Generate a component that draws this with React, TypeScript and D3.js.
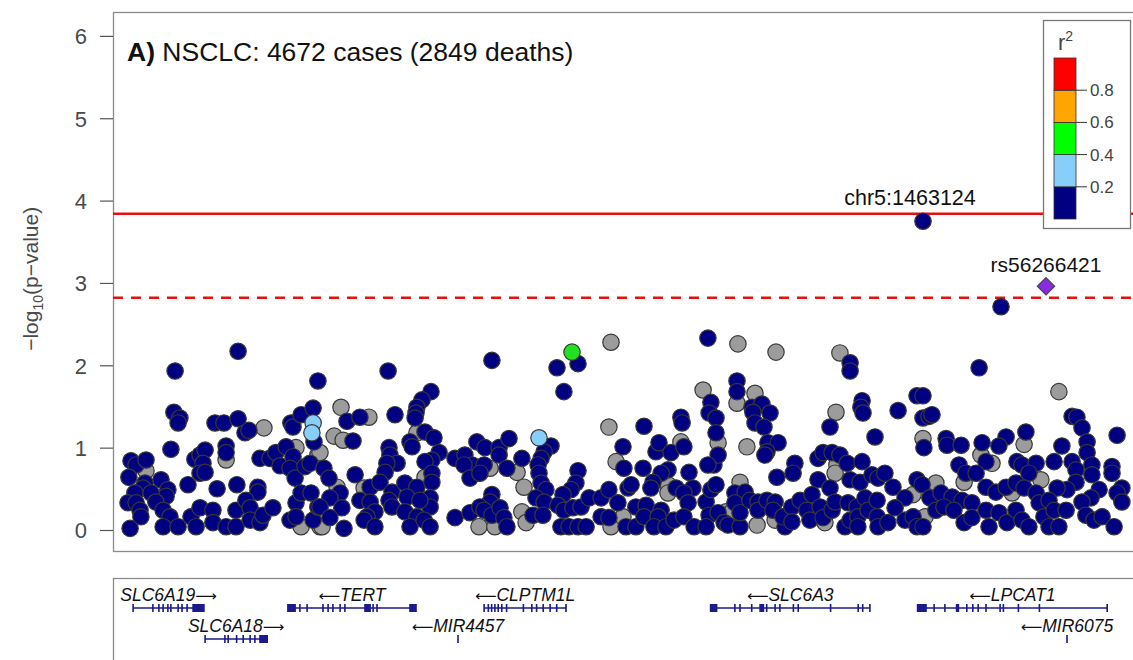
import React, { useEffect, useRef } from "react";
import * as d3 from "d3";

// chr5 positions in kb, -log10(p)
const navySnps = [
  [1234.7,2.17],[1213.7,1.93],[1261.3,1.81],[1213.3,1.43],[1215.3,1.36],[1214.7,1.30],[1227.0,1.30],[1230.0,1.30],[1234.7,1.35],[1237.0,1.18],[1238.3,1.21],[1252.3,1.30],[1253.0,1.25],[1255.7,1.40],[1259.7,1.48],[1260.0,1.07],[1212.3,0.98],[1199.0,0.84],[1200.7,0.79],[1204.0,0.85],[1198.3,0.64],[1220.3,0.86],[1222.0,0.91],[1223.7,0.97],[1223.0,0.81],[1222.0,0.69],[1223.7,0.70],[1230.7,1.02],[1230.7,0.94],[1242.0,0.87],[1245.3,0.87],[1247.3,0.94],[1248.7,0.78],[1250.7,1.01],[1253.0,0.89],[1252.0,0.75],[1253.7,0.63],[1257.0,0.77],[1258.7,0.81],[1209.0,0.61],[1218.0,0.55],[1227.7,0.50],[1234.3,0.55],[1241.3,0.52],[1241.3,0.46],[1203.7,0.57],[1203.0,0.51],[1211.3,0.49],[1210.7,0.41],[1200.3,0.45],[1205.7,0.45],[1198.0,0.33],[1200.7,0.33],[1207.3,0.34],[1202.0,0.24],[1202.3,0.16],[1209.7,0.24],[1212.0,0.16],[1198.7,0.02],[1209.7,0.04],[1214.7,0.04],[1219.0,0.16],[1222.0,0.27],[1220.7,0.04],[1226.3,0.24],[1226.3,0.09],[1230.7,0.04],[1234.0,0.04],[1234.0,0.24],[1237.3,0.36],[1238.7,0.27],[1238.7,0.12],[1242.0,0.09],[1243.0,0.18],[1246.3,0.27],[1252.0,0.12],[1254.0,0.33],[1255.7,0.45],[1259.0,0.45],[1254.0,0.16],[1259.7,0.12],[1261.3,0.28],
  [1319.3,2.06],[1284.7,1.93],[1299.0,1.68],[1296.0,1.58],[1294.3,1.49],[1294.0,1.42],[1293.7,1.36],[1271.0,1.32],[1275.3,1.37],[1287.0,1.40],[1273.0,1.08],[1297.0,1.19],[1300.0,1.12],[1292.0,1.07],[1292.7,1.01],[1285.0,1.00],[1285.3,0.91],[1287.7,0.81],[1284.3,0.81],[1283.7,0.70],[1301.7,0.94],[1299.3,0.85],[1297.0,0.83],[1273.7,0.67],[1263.3,0.75],[1265.0,0.63],[1268.7,0.45],[1265.3,0.39],[1269.3,0.27],[1262.0,0.28],[1265.3,0.15],[1270.0,0.02],[1278.7,0.52],[1282.0,0.58],[1275.3,0.36],[1278.7,0.34],[1280.3,0.22],[1277.7,0.16],[1276.7,0.12],[1280.3,0.04],[1286.0,0.46],[1285.0,0.36],[1286.0,0.28],[1290.3,0.57],[1294.3,0.52],[1291.0,0.40],[1290.3,0.22],[1294.3,0.16],[1292.0,0.04],[1299.3,0.69],[1299.3,0.58],[1298.7,0.39],[1298.7,0.28],[1295.3,0.36],[1296.7,0.12],[1298.7,0.04],[1307.0,0.87],[1310.3,0.91],[1314.3,1.07],[1317.0,1.00],[1321.7,1.00],[1325.0,1.11],[1321.7,0.91],[1312.7,0.79],[1310.0,0.79],[1316.7,0.79],[1324.3,0.75],[1329.3,0.87],[1312.0,0.63],[1315.3,0.69],[1319.3,0.43],[1318.7,0.34],[1307.0,0.15],[1312.0,0.21],[1315.3,0.28],[1316.7,0.24],[1319.3,0.18],[1322.0,0.27],[1323.3,0.15],[1324.3,0.04],
  [1391.3,2.33],[1341.0,1.97],[1348.0,2.02],[1343.3,1.68],[1392.3,1.55],[1391.7,1.42],[1394.0,1.36],[1382.3,1.37],[1382.7,1.30],[1370.0,1.26],[1339.0,1.02],[1336.7,0.95],[1335.7,0.87],[1334.7,0.79],[1335.0,0.69],[1335.7,0.57],[1337.3,0.49],[1334.0,0.39],[1336.7,0.34],[1333.0,0.18],[1336.3,0.18],[1363.0,1.01],[1363.3,0.75],[1369.7,0.75],[1348.0,0.72],[1347.3,0.57],[1345.7,0.49],[1343.0,0.43],[1341.3,0.30],[1343.3,0.24],[1346.3,0.27],[1349.0,0.28],[1351.7,0.39],[1342.3,0.04],[1345.0,0.04],[1348.0,0.04],[1350.7,0.04],[1355.7,0.39],[1358.3,0.49],[1355.7,0.16],[1358.3,0.15],[1361.3,0.33],[1364.7,0.51],[1365.7,0.55],[1367.3,0.28],[1364.0,0.04],[1367.3,0.04],[1370.7,0.30],[1370.0,0.16],[1374.0,0.95],[1375.0,1.06],[1379.0,0.94],[1378.0,0.73],[1375.7,0.69],[1373.0,0.58],[1372.3,0.51],[1380.7,0.51],[1383.3,1.01],[1385.0,0.70],[1386.3,0.51],[1383.3,0.45],[1384.7,0.33],[1375.7,0.24],[1374.7,0.16],[1373.3,0.04],[1377.3,0.04],[1380.0,0.12],[1383.3,0.16],[1386.7,0.04],[1390.7,0.34],[1392.3,0.49],[1394.0,0.55],[1393.3,0.79],[1394.7,0.91],[1394.0,1.18],[1391.3,0.79],[1391.7,0.18],[1390.7,0.04],[1394.7,0.21],[1396.7,0.09],
  [1463.0,3.75],[1438.7,2.03],[1438.7,1.93],[1401.0,1.81],[1401.0,1.68],[1406.0,1.49],[1409.3,1.53],[1406.3,1.43],[1412.0,1.42],[1407.0,1.30],[1410.0,1.25],[1442.7,1.57],[1442.3,1.49],[1443.0,1.42],[1454.7,1.45],[1461.0,1.63],[1463.0,1.63],[1463.0,1.36],[1465.0,1.38],[1463.3,1.00],[1432.0,1.25],[1447.0,1.13],[1411.3,1.06],[1414.7,1.06],[1411.0,0.95],[1410.3,0.91],[1420.3,0.81],[1419.7,0.69],[1414.3,0.64],[1428.0,0.87],[1429.7,0.94],[1432.7,0.94],[1435.3,0.91],[1437.7,0.81],[1442.7,0.83],[1428.0,0.61],[1432.0,0.51],[1438.7,0.61],[1442.0,0.58],[1446.0,0.67],[1448.0,0.63],[1450.3,0.69],[1453.0,0.52],[1457.0,0.39],[1461.0,0.61],[1462.7,0.55],[1465.3,0.39],[1398.0,0.06],[1402.0,0.04],[1400.3,0.45],[1403.7,0.46],[1400.3,0.33],[1402.0,0.21],[1405.3,0.36],[1408.0,0.34],[1408.0,0.24],[1411.0,0.36],[1413.7,0.34],[1413.0,0.24],[1417.0,0.04],[1416.3,0.16],[1419.3,0.28],[1419.3,0.10],[1422.0,0.36],[1424.3,0.24],[1426.0,0.43],[1425.3,0.12],[1428.7,0.28],[1429.7,0.15],[1432.7,0.24],[1433.7,0.34],[1437.0,0.04],[1438.7,0.12],[1438.0,0.33],[1441.0,0.28],[1441.3,0.16],[1441.3,0.04],[1443.7,0.39],[1444.7,0.24],[1447.7,0.36],[1447.7,0.16],[1448.0,0.04],[1451.3,0.09],[1453.7,0.27],[1457.0,0.12],[1459.7,0.16],[1461.0,0.04],[1463.0,0.04],
  [1489.0,2.71],[1481.7,1.97],[1466.0,1.40],[1512.7,1.38],[1514.3,1.37],[1516.0,1.24],[1517.7,1.07],[1527.7,1.15],[1497.3,1.19],[1490.7,1.13],[1488.3,1.02],[1482.7,1.06],[1470.7,1.11],[1471.0,1.03],[1475.7,1.03],[1509.3,1.02],[1517.7,0.94],[1484.0,0.83],[1475.0,0.79],[1477.3,0.69],[1480.7,0.69],[1494.3,0.83],[1496.0,0.79],[1500.7,0.81],[1498.3,0.69],[1506.7,0.83],[1512.7,0.83],[1514.0,0.73],[1519.3,0.79],[1519.3,0.67],[1526.0,0.77],[1526.0,0.69],[1529.3,0.51],[1527.7,0.45],[1529.3,0.34],[1521.7,0.49],[1519.0,0.39],[1516.0,0.34],[1514.0,0.58],[1511.0,0.49],[1507.7,0.51],[1469.0,0.45],[1472.7,0.40],[1476.0,0.36],[1479.3,0.33],[1484.0,0.52],[1487.3,0.46],[1490.7,0.52],[1494.0,0.57],[1496.7,0.51],[1500.7,0.45],[1501.7,0.33],[1505.0,0.36],[1467.3,0.24],[1470.0,0.28],[1473.3,0.24],[1476.7,0.09],[1479.3,0.15],[1484.0,0.24],[1485.0,0.04],[1488.3,0.21],[1491.0,0.09],[1494.0,0.24],[1496.0,0.12],[1498.3,0.04],[1503.3,0.16],[1505.0,0.04],[1508.3,0.04],[1506.7,0.24],[1510.7,0.24],[1517.3,0.18],[1520.0,0.12],[1522.7,0.16],[1526.7,0.04]
];

// r2 not available
const greySnps = [
  [1243.3,1.24],[1204.0,0.72],[1230.7,0.85],[1254.0,1.00],[1261.3,0.91],[1255.7,0.04],[1262.0,0.04],
  [1269.0,1.49],[1278.3,1.37],[1266.7,1.14],[1269.7,1.09],[1262.0,0.94],[1294.3,1.18],[1267.7,0.52],[1262.7,0.04],[1276.7,0.51],[1297.0,0.64],[1318.7,0.75],[1327.7,0.70],[1315.0,0.04],[1320.3,0.04],[1330.0,0.52],[1329.3,0.22],
  [1359.0,2.28],[1389.7,1.70],[1358.3,1.25],[1330.7,0.09],[1360.7,0.83],[1359.0,0.04],[1363.0,0.16],[1378.0,0.55],[1378.0,0.45],[1382.3,1.07],[1394.7,1.06],[1397.3,0.22],
  [1401.3,2.26],[1414.0,2.16],[1435.3,2.15],[1407.0,1.66],[1401.0,1.54],[1434.0,1.43],[1463.0,1.11],[1404.3,1.01],[1434.3,0.79],[1433.7,0.69],[1459.7,0.43],[1466.0,0.52],[1407.7,0.06],[1402.0,0.58],[1399.3,0.22],[1413.7,0.12],[1430.3,0.09],[1463.7,0.16],
  [1508.3,1.68],[1496.7,1.04],[1482.3,0.91],[1486.0,0.81],[1476.7,0.58],[1467.3,0.57],[1502.3,0.61],[1492.7,0.45]
];

const lightBlueSnps = [[1259.7,1.30],[1259.3,1.18],[1335.0,1.12]];
const greenSnps = [[1346.0,2.16]];
const leadSnp = [1504.0, 2.96];
const topSnp = [1463.0, 3.75];

const sigLine = 3.84;
const suggestiveLine = 2.82;
const yTicks = [0, 1, 2, 3, 4, 5, 6];

const ldColors = ["#000080", "#87CEFA", "#00FF00", "#FFA500", "#FF0000"];
const ldBreaks = [0.2, 0.4, 0.6, 0.8];

// genes (kb), exons as [start, end]
const genes = [
  { name: "SLC6A19", strand: "+", row: 0, start: 1199.7, end: 1223.3,
    exons: [[1199.7,1199.7],[1206.3,1206.3],[1208.3,1208.3],[1209.7,1209.7],[1211.3,1211.3],[1212.3,1212.3],[1214.7,1214.7],[1216.0,1216.0],[1217.7,1217.7],[1219.7,1223.3]] },
  { name: "TERT", strand: "-", row: 0, start: 1251.3, end: 1294.0,
    exons: [[1251.3,1253.7],[1255.3,1255.3],[1257.7,1257.7],[1263.0,1263.0],[1264.7,1264.7],[1266.3,1266.3],[1268.7,1268.7],[1270.3,1270.3],[1277.0,1278.7],[1279.7,1279.7],[1281.0,1281.0],[1292.0,1294.0]] },
  { name: "CLPTM1L", strand: "-", row: 0, start: 1316.7, end: 1344.0,
    exons: [[1316.7,1316.7],[1318.1,1318.1],[1319.2,1319.2],[1320.3,1320.3],[1321.4,1321.4],[1322.6,1322.6],[1324.2,1324.2],[1329.8,1329.8],[1332.6,1332.6],[1334.2,1334.2],[1336.4,1336.4],[1338.7,1338.7],[1340.9,1340.9],[1344.0,1344.0]] },
  { name: "SLC6A18", strand: "+", row: 1, start: 1223.7, end: 1244.4,
    exons: [[1223.7,1223.7],[1230.3,1230.3],[1231.4,1231.4],[1234.2,1234.2],[1236.4,1236.4],[1238.7,1238.7],[1240.3,1240.3],[1242.0,1244.4]] },
  { name: "MIR4457", strand: "-", row: 1, start: 1308.0, end: 1308.0, exons: [[1308.0,1308.0]] },
  { name: "SLC6A3", strand: "-", row: 0, start: 1392.2, end: 1445.3,
    exons: [[1392.2,1394.2],[1400.3,1400.3],[1402.0,1402.0],[1405.9,1405.9],[1408.7,1409.8],[1410.9,1410.9],[1413.7,1413.7],[1415.3,1415.3],[1419.8,1419.8],[1421.4,1421.4],[1432.2,1432.2],[1441.4,1441.4],[1442.9,1442.9],[1445.3,1445.3]] },
  { name: "LPCAT1", strand: "-", row: 0, start: 1461.2, end: 1524.4,
    exons: [[1461.2,1464.0],[1466.7,1466.7],[1470.3,1470.3],[1474.2,1474.8],[1477.6,1477.6],[1479.6,1479.6],[1481.4,1481.4],[1484.0,1484.0],[1488.7,1488.7],[1489.8,1489.8],[1494.8,1494.8],[1501.8,1501.8],[1524.4,1524.4]] },
  { name: "MIR6075", strand: "-", row: 1, start: 1511.0, end: 1511.0, exons: [[1511.0,1511.0]] }
];

const FONT = "'Liberation Sans', Arial, Helvetica, sans-serif";

export default function App() {
  const ref = useRef(null);

  useEffect(() => {
    const svg = d3.select(ref.current);
    svg.selectAll("*").remove();

    const left = 113, right = 1133, top = 12, bottom = 551;
    const x = d3.scaleLinear().domain([1193, 1533]).range([left, right]);
    const y = d3.scaleLinear().domain([-0.255, 6.29]).range([bottom, top]);

    // plot frame
    svg.append("rect")
      .attr("x", left + 0.5).attr("y", top + 0.5)
      .attr("width", right - left + 10).attr("height", bottom - top)
      .attr("fill", "none").attr("stroke", "#8c8c8c").attr("stroke-width", 1.3);

    // y axis
    const yAxis = svg.append("g")
      .attr("transform", "translate(" + left + ",0)")
      .call(d3.axisLeft(y).tickValues(yTicks).tickSize(13).tickPadding(13).tickFormat(d3.format("d")));
    yAxis.select(".domain").remove();
    yAxis.selectAll("line").attr("stroke", "#555").attr("stroke-width", 1.2);
    yAxis.selectAll("text").attr("font-family", FONT).attr("font-size", 22).attr("fill", "#4a4a4a").attr("dy", "0.36em");

    const ylab = svg.append("text")
      .attr("transform", "translate(38," + y(3.05) + ") rotate(-90)")
      .attr("text-anchor", "middle")
      .attr("font-family", FONT).attr("font-size", 21).attr("fill", "#4a4a4a");
    ylab.append("tspan").text("\u2212log");
    ylab.append("tspan").attr("font-size", 14).attr("dy", 5).text("10");
    ylab.append("tspan").attr("dy", -5).text("(p\u2212value)");

    // threshold lines
    svg.append("line")
      .attr("x1", left).attr("x2", right).attr("y1", y(sigLine)).attr("y2", y(sigLine))
      .attr("stroke", "#e8100f").attr("stroke-width", 2.6);
    svg.append("line")
      .attr("x1", left).attr("x2", right).attr("y1", y(suggestiveLine)).attr("y2", y(suggestiveLine))
      .attr("stroke", "#e8100f").attr("stroke-width", 2.6).attr("stroke-dasharray", "10,8");

    const drawPoints = (data, fill) => {
      svg.append("g").selectAll("circle")
        .data(data)
        .enter().append("circle")
        .attr("cx", d => x(d[0]))
        .attr("cy", d => y(d[1]))
        .attr("r", 8.2)
        .attr("fill", fill)
        .attr("stroke", "#383838")
        .attr("stroke-width", 1.2);
    };
    drawPoints(greySnps, "#9c9c9c");
    drawPoints(navySnps, ldColors[0]);
    drawPoints(lightBlueSnps, ldColors[1]);
    drawPoints(greenSnps, "#22e022");

    // lead SNP diamond
    svg.append("path")
      .attr("d", d3.symbol().type(d3.symbolDiamond2).size(190)())
      .attr("transform", "translate(" + x(leadSnp[0]) + "," + y(leadSnp[1]) + ")")
      .attr("fill", "#8a2be2").attr("stroke", "#444").attr("stroke-width", 1.2);

    svg.append("text")
      .attr("x", x(leadSnp[0])).attr("y", y(leadSnp[1]) - 14)
      .attr("text-anchor", "middle")
      .attr("font-family", FONT).attr("font-size", 21).attr("fill", "#111")
      .text("rs56266421");
    svg.append("text")
      .attr("x", x(topSnp[0]) - 13).attr("y", y(topSnp[1]) - 16)
      .attr("text-anchor", "middle")
      .attr("font-family", FONT).attr("font-size", 21.5).attr("fill", "#111")
      .text("chr5:1463124");

    // title
    const title = svg.append("text")
      .attr("x", 127).attr("y", 61)
      .attr("font-family", FONT).attr("font-size", 26.5).attr("fill", "#111");
    title.append("tspan").attr("font-weight", "bold").text("A)");
    title.append("tspan").text(" NSCLC: 4672 cases (2849 deaths)");

    // legend
    const lg = svg.append("g");
    lg.append("rect")
      .attr("x", 1043.5).attr("y", 20.5).attr("width", 87).attr("height", 208)
      .attr("fill", "white").attr("stroke", "#777").attr("stroke-width", 1.3);
    const ly = d3.scaleLinear().domain([0, 1]).range([219, 58]);
    lg.selectAll("rect.ld")
      .data(ldColors)
      .enter().append("rect")
      .attr("class", "ld")
      .attr("x", 1054).attr("width", 22)
      .attr("y", (d, i) => ly((i + 1) * 0.2))
      .attr("height", ly(0) - ly(0.2))
      .attr("fill", d => d)
      .attr("stroke", "#333").attr("stroke-width", 0.8);
    lg.selectAll("line.ld")
      .data(ldBreaks)
      .enter().append("line")
      .attr("x1", 1076).attr("x2", 1087)
      .attr("y1", d => ly(d)).attr("y2", d => ly(d))
      .attr("stroke", "#333").attr("stroke-width", 1);
    lg.selectAll("text.ld")
      .data(ldBreaks)
      .enter().append("text")
      .attr("x", 1090).attr("y", d => ly(d) + 6)
      .attr("font-family", FONT).attr("font-size", 17).attr("fill", "#444")
      .text(d => d.toFixed(1));
    const r2 = lg.append("text")
      .attr("x", 1058).attr("y", 50)
      .attr("font-family", FONT).attr("font-size", 22).attr("fill", "#444");
    r2.append("tspan").text("r");
    r2.append("tspan").attr("font-size", 14).attr("dy", -9).text("2");

    // gene panel
    svg.append("rect")
      .attr("x", left + 0.5).attr("y", 578.5)
      .attr("width", right - left + 10).attr("height", 120)
      .attr("fill", "none").attr("stroke", "#8c8c8c").attr("stroke-width", 1.3);

    const rowLine = [608, 639];
    const gg = svg.append("g").selectAll("g")
      .data(genes)
      .enter().append("g");
    gg.append("line")
      .attr("x1", d => x(d.start)).attr("x2", d => x(d.end))
      .attr("y1", d => rowLine[d.row]).attr("y2", d => rowLine[d.row])
      .attr("stroke", "#1a1a8c").attr("stroke-width", 1.3);
    gg.each(function (g) {
      d3.select(this).selectAll("rect")
        .data(g.exons)
        .enter().append("rect")
        .attr("x", e => x(e[0]) - 0.8)
        .attr("width", e => Math.max(1.6, x(e[1]) - x(e[0]) + 1.6))
        .attr("y", rowLine[g.row] - 4)
        .attr("height", 8)
        .attr("fill", "#1a1a8c");
    });
    const labels = gg.append("text")
      .attr("x", d => x((d.start + d.end) / 2))
      .attr("y", d => rowLine[d.row] - 7)
      .attr("text-anchor", "middle")
      .attr("font-family", FONT).attr("font-style", "italic").attr("font-size", 17.5).attr("fill", "#111");
    labels.each(function (d) {
      const t = d3.select(this);
      const arrow = () => t.append("tspan").attr("font-family", "'DejaVu Sans', sans-serif")
        .attr("font-style", "normal").attr("font-size", 15).text(d.strand === "+" ? "\u27F6" : "\u27F5");
      if (d.strand === "+") { t.append("tspan").text(d.name); arrow(); }
      else { arrow(); t.append("tspan").text(d.name); }
    });
  }, []);

  return (
    <svg ref={ref} width={1133} height={660}
      style={{ position: "absolute", left: 0, top: 0, background: "white" }} />
  );
}
